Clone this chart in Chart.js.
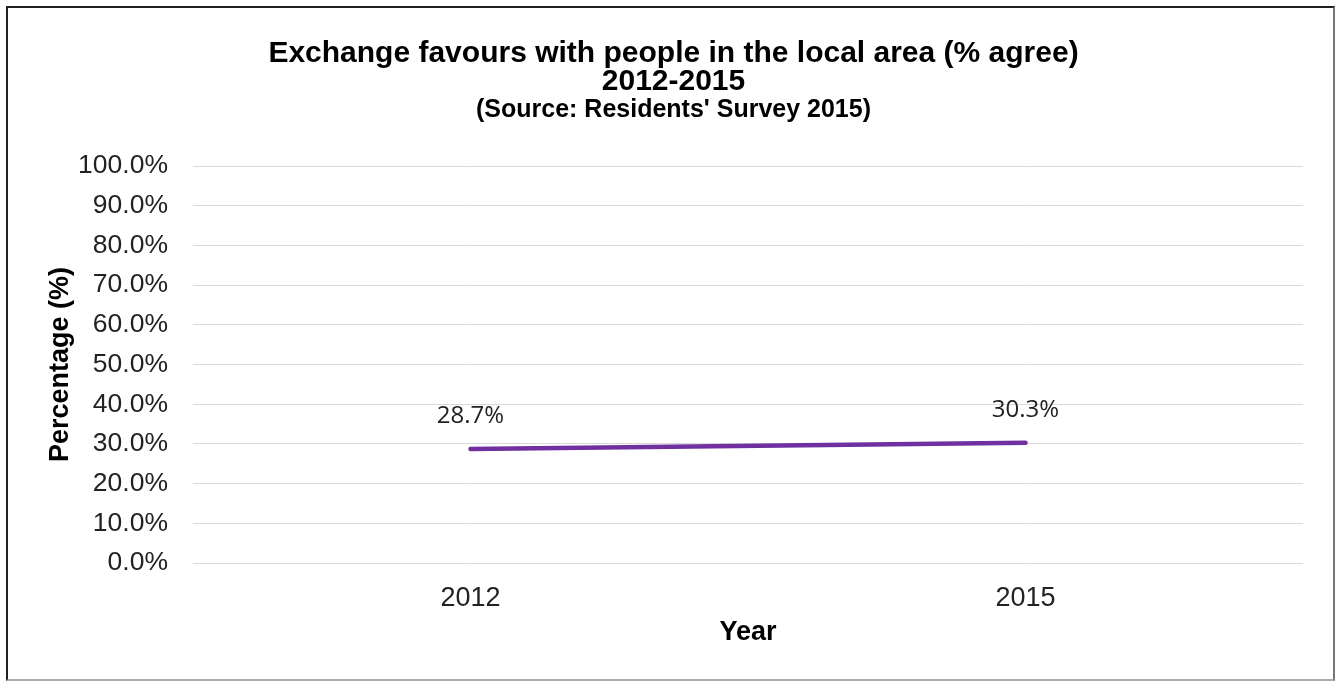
<!DOCTYPE html>
<html>
<head>
<meta charset="utf-8">
<script src="https://cdn.jsdelivr.net/npm/chart.js@4/dist/chart.umd.min.js"></script>
<style>
    html, body { margin: 0; padding: 0; background: #fff; }
    #frame {
        position: absolute;
        left: 6px; top: 6px;
        width: 1325px; height: 671px;
        border: 2px solid #222;
        border-right-color: #777;
        border-bottom-color: #aaa;
        background: #fff;
    }
    #chart { display: block; }
</style>
</head>
<body>
<div id="frame"><canvas id="chart" width="1325" height="671"></canvas></div>
<script>
const years = ["2012", "2015"];
const agreePct = [28.7, 30.3];
const yTicks = [0, 10, 20, 30, 40, 50, 60, 70, 80, 90, 100];

const arial = "'Liberation Sans', Arial, sans-serif";

// writes the value above each point of the line
const pointLabels = {
    id: "pointLabels",
    afterDatasetsDraw(chart) {
        const ctx = chart.ctx;
        const meta = chart.getDatasetMeta(0);
        ctx.save();
        ctx.font = "24px 'Open Sans', sans-serif";
        ctx.fillStyle = "#222";
        ctx.textAlign = "center";
        ctx.textBaseline = "middle";
        meta.data.forEach((pt, i) => {
            ctx.fillText(agreePct[i].toFixed(1) + "%", pt.x, pt.y - 33);
        });
        ctx.restore();
    }
};

new Chart(document.getElementById("chart").getContext("2d"), {
    type: "line",
    data: {
        labels: years,
        datasets: [{
            data: agreePct,
            borderColor: "#7030a0",
            borderWidth: 4.5,
            borderCapStyle: "round",
            pointRadius: 0,
            pointHoverRadius: 0,
            fill: false
        }]
    },
    options: {
        responsive: false,
        animation: false,
        layout: { padding: { left: 36, right: 30, top: 0, bottom: 30 } },
        plugins: {
            legend: { display: false },
            tooltip: { enabled: false },
            title: {
                display: true,
                text: ["Exchange favours with people in the local area (% agree)", "2012-2015"],
                color: "#000",
                font: { family: arial, size: 30, weight: "bold", lineHeight: "28px" },
                padding: { top: 32, bottom: 0 }
            },
            subtitle: {
                display: true,
                text: "(Source: Residents' Survey 2015)",
                color: "#000",
                font: { family: arial, size: 25, weight: "bold", lineHeight: "28px" },
                padding: { top: 0, bottom: 42 }
            }
        },
        scales: {
            x: {
                offset: true,
                grid: { display: false },
                border: { display: false },
                afterFit(axis) { axis.height = 86; },
                ticks: {
                    color: "#222",
                    padding: 11,
                    font: { family: arial, size: 27 }
                },
                title: {
                    display: true,
                    text: "Year",
                    color: "#000",
                    font: { family: arial, size: 27, weight: "bold" },
                    padding: { top: 0, bottom: 0 }
                }
            },
            y: {
                min: 0,
                max: 100,
                afterBuildTicks(axis) {
                    axis.ticks = yTicks.map(v => ({ value: v }));
                },
                afterFit(axis) { axis.width = 149; },
                grid: { color: "#d9d9d9", lineWidth: 1, drawTicks: false },
                border: { display: false },
                ticks: {
                    color: "#222",
                    padding: 25,
                    font: { family: arial, size: 26.5 },
                    callback: v => v.toFixed(1) + "%"
                },
                title: {
                    display: true,
                    text: "Percentage (%)",
                    color: "#000",
                    font: { family: arial, size: 27, weight: "bold" },
                    padding: { top: 0, bottom: 0 }
                }
            }
        }
    },
    plugins: [pointLabels]
});
</script>
</body>
</html>
